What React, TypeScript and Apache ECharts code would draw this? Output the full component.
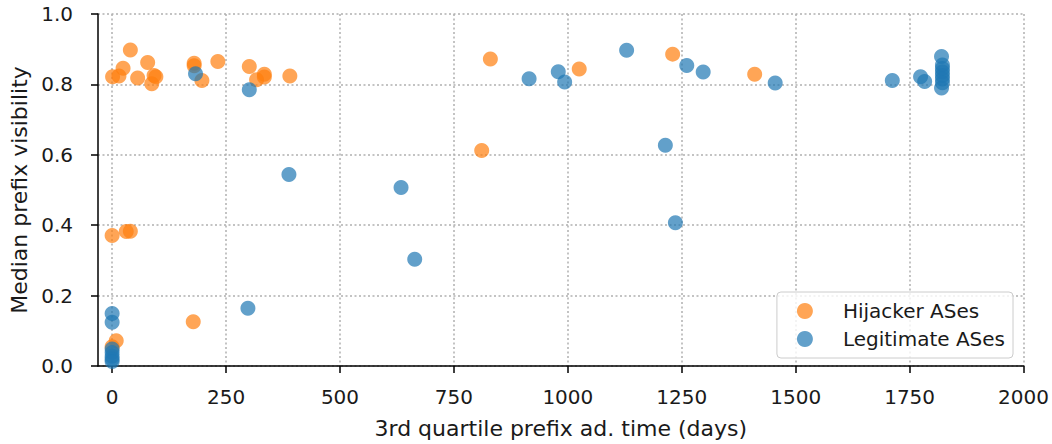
import React, { useEffect, useRef } from "react";
import * as echarts from "echarts";

const hijackerX = [1, 15, 24, 40, 56, 78, 87, 92, 96, 180, 180, 197, 232, 301, 317, 334, 334, 390, 830, 1025, 1230, 1410, 811, 0, 31, 40, 178, 9, 0];
const hijackerY = [0.822, 0.824, 0.846, 0.898, 0.818, 0.862, 0.802, 0.825, 0.822, 0.86, 0.853, 0.811, 0.865, 0.851, 0.813, 0.829, 0.821, 0.824, 0.872, 0.844, 0.886, 0.829, 0.612, 0.371, 0.382, 0.383, 0.126, 0.072, 0.055];

const legitX = [183, 301, 915, 979, 993, 1129, 1261, 1297, 1455, 1214, 1236, 388, 634, 664, 298, 1712, 1774, 1783, 1820, 1820, 1822, 1822, 1822, 1822, 1822, 1822, 0, 0, 0, 0, 0, 0, 0];
const legitY = [0.83, 0.785, 0.816, 0.836, 0.807, 0.897, 0.854, 0.835, 0.804, 0.627, 0.407, 0.544, 0.507, 0.303, 0.164, 0.811, 0.822, 0.808, 0.879, 0.79, 0.855, 0.845, 0.835, 0.825, 0.815, 0.805, 0.149, 0.124, 0.048, 0.038, 0.028, 0.02, 0.013];

const xTicks = [0, 250, 500, 750, 1000, 1250, 1500, 1750, 2000];
const yTicks = [0, 0.2, 0.4, 0.6, 0.8, 1.0];

const FONT = "DejaVu Sans";
const TEXT = "#1a1a1a";

export default function App() {
  const ref = useRef<HTMLDivElement>(null);
  useEffect(() => {
    if (!ref.current) return;
    const chart = echarts.init(ref.current, null, { renderer: "svg" });
    const zip = (xs: number[], ys: number[]) => xs.map((x, i) => [x, ys[i]]);
    const grid = { show: true, lineStyle: { color: "#b0b0b0", type: [2, 2.5] as any, width: 1.5 } };
    chart.setOption({
      animation: false,
      textStyle: { fontFamily: FONT },
      grid: { left: 98, right: 28, top: 14, bottom: 77, containLabel: false },
      xAxis: {
        type: "value",
        min: -31,
        max: 2000,
        interval: 250,
        name: "3rd quartile prefix ad. time (days)",
        nameLocation: "middle",
        nameGap: 51,
        nameTextStyle: { fontSize: 22, color: TEXT, fontFamily: FONT },
        axisLine: { show: true, onZero: false, lineStyle: { color: "#000", width: 1.5 } },
        axisTick: { show: true, length: 7, lineStyle: { color: "#000", width: 1.5 }, customValues: xTicks },
        axisLabel: {
          fontSize: 20,
          color: TEXT,
          fontFamily: FONT,
          margin: 21,
          customValues: xTicks,
          formatter: (v: number) => (xTicks.includes(v) ? String(v) : ""),
        },
        splitLine: grid,
      },
      yAxis: {
        type: "value",
        min: 0,
        max: 1,
        interval: 0.2,
        name: "Median prefix visibility",
        nameLocation: "middle",
        nameGap: 66,
        nameTextStyle: { fontSize: 22, color: TEXT, fontFamily: FONT },
        axisLine: { show: true, onZero: false, lineStyle: { color: "#000", width: 1.5 } },
        axisTick: { show: true, length: 7, lineStyle: { color: "#000", width: 1.5 } },
        axisLabel: {
          fontSize: 20,
          color: TEXT,
          fontFamily: FONT,
          margin: 25,
          formatter: (v: number) => v.toFixed(1),
        },
        splitLine: grid,
      },
      legend: {
        orient: "vertical",
        right: 39,
        top: 292,
        padding: [9, 8, 9, 20],
        itemWidth: 16,
        itemHeight: 16,
        itemGap: 8,
        icon: "circle",
        borderColor: "#cccccc",
        borderWidth: 1,
        borderRadius: 4,
        backgroundColor: "rgba(255,255,255,0.8)",
        textStyle: { fontSize: 20, color: TEXT, fontFamily: FONT, padding: [0, 0, 0, 25], lineHeight: 20 },
        data: ["Hijacker ASes", "Legitimate ASes"],
      },
      series: [
        {
          name: "Hijacker ASes",
          type: "scatter",
          symbolSize: 15,
          itemStyle: { color: "#ff7f0e", opacity: 0.7 },
          data: zip(hijackerX, hijackerY),
        },
        {
          name: "Legitimate ASes",
          type: "scatter",
          symbolSize: 15,
          itemStyle: { color: "#1f77b4", opacity: 0.7 },
          data: zip(legitX, legitY),
        },
      ],
    });
    return () => chart.dispose();
  }, []);
  return (
    <div
      ref={ref}
      style={{ position: "fixed", left: 0, top: 0, width: 1052, height: 444, background: "#fff" }}
    />
  );
}
